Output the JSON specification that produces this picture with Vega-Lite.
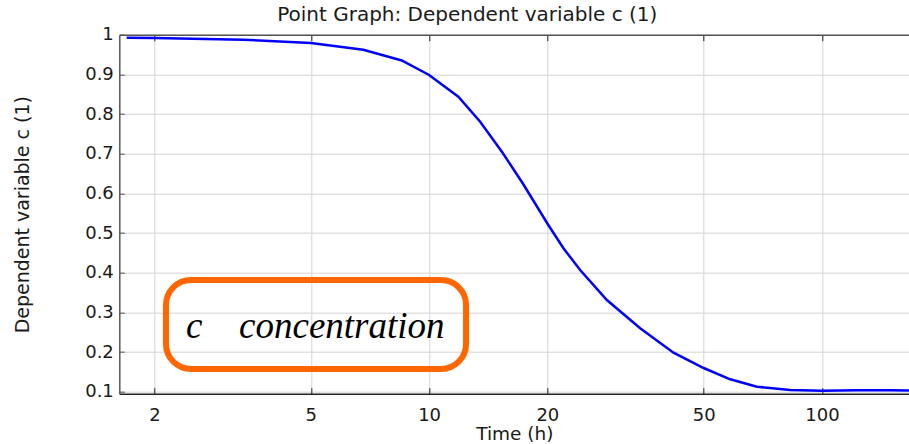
{
  "$schema": "https://vega.github.io/schema/vega-lite/v6.json",
  "width": 790,
  "height": 359,
  "autosize": {"type": "none"},
  "padding": {"left": 119.3, "top": 34.7, "right": 0, "bottom": 50.3},
  "background": "white",
  "config": {
    "view": {"stroke": null},
    "font": "DejaVu Sans",
    "axis": {"labelFont": "DejaVu Sans", "titleFont": "DejaVu Sans", "labelColor": "#1a1a1a", "titleColor": "#1a1a1a", "titleFontWeight": "normal", "labelFontSize": 18, "titleFontSize": 19}
  },
  "title": {
    "text": "Point Graph: Dependent variable c (1)",
    "font": "DejaVu Sans",
    "fontSize": 20,
    "fontWeight": "normal",
    "color": "#1a1a1a",
    "anchor": "middle",
    "dx": -47,
    "baseline": "alphabetic",
    "offset": -15
  },
  "datasets": {
    "curve": [
      {"t": 1.699, "c": 0.9924},
      {"t": 2.0, "c": 0.9917},
      {"t": 3.366, "c": 0.9874},
      {"t": 5.0, "c": 0.9791},
      {"t": 6.8, "c": 0.9622},
      {"t": 8.52, "c": 0.935},
      {"t": 10.0, "c": 0.8984},
      {"t": 11.87, "c": 0.8437},
      {"t": 13.49, "c": 0.7807},
      {"t": 15.32, "c": 0.7051},
      {"t": 17.39, "c": 0.6224},
      {"t": 20.04, "c": 0.5228},
      {"t": 21.98, "c": 0.4616},
      {"t": 24.24, "c": 0.4069},
      {"t": 28.35, "c": 0.3312},
      {"t": 34.46, "c": 0.2599},
      {"t": 41.9, "c": 0.1984},
      {"t": 50.0, "c": 0.1598},
      {"t": 58.42, "c": 0.1313},
      {"t": 68.32, "c": 0.1127},
      {"t": 83.06, "c": 0.1044},
      {"t": 100.0, "c": 0.1026},
      {"t": 122.8, "c": 0.1039},
      {"t": 149.2, "c": 0.1036},
      {"t": 166.9, "c": 0.1031}
    ],
    "box": [
      {"x1": 2.139, "x2": 12.42, "y1": 0.3817, "y2": 0.1573}
    ],
    "labels": [
      {"t": 2.405, "c": 0.2354, "label": "c"},
      {"t": 3.283, "c": 0.2354, "label": "concentration"}
    ]
  },
  "resolve": {"axis": {"x": "independent", "y": "independent"}},
  "layer": [
    {
      "data": {"name": "curve"},
      "mark": {"type": "line", "color": "#0000ff", "strokeWidth": 2.5, "clip": true},
      "encoding": {
        "x": {
          "field": "t", "type": "quantitative",
          "scale": {"type": "log", "domain": [1.627, 166.9], "nice": false},
          "axis": {
            "orient": "bottom", "title": "Time (h)", "values": [2, 5, 10, 20, 50, 100], "format": "~g",
            "grid": true, "gridColor": "#d4d4d4", "gridWidth": 1,
            "domainColor": "#222222", "domainWidth": 1.5,
            "tickColor": "#222222", "tickSize": -6, "labelPadding": 19,
            "titlePadding": 0, "titleFontSize": 18.5, "labelFlush": false
          }
        },
        "y": {
          "field": "c", "type": "quantitative",
          "scale": {"domain": [0.095, 1.0], "nice": false, "zero": false},
          "axis": {
            "title": "Dependent variable c (1)", "values": [0.1, 0.2, 0.3, 0.4, 0.5, 0.6, 0.7, 0.8, 0.9, 1.0], "format": "~g",
            "grid": true, "gridColor": "#d4d4d4", "gridWidth": 1,
            "domainColor": "#555555", "domainWidth": 1.5,
            "tickColor": "#555555", "tickSize": -5, "labelPadding": 11,
            "titlePadding": 52, "labelFlush": false
          }
        }
      }
    },
    {
      "data": {"name": "box"},
      "mark": {"type": "rect", "fill": null, "fillOpacity": 0, "stroke": "#ff6600", "strokeWidth": 6, "cornerRadius": 25},
      "encoding": {
        "x": {
          "field": "x1", "type": "quantitative",
          "axis": {"orient": "top", "title": null, "labels": false, "grid": false, "domainColor": "#555555", "domainWidth": 1.5, "tickColor": "#222222", "tickSize": -6, "values": [2, 5, 10, 20, 50, 100]}
        },
        "x2": {"field": "x2"},
        "y": {"field": "y1", "type": "quantitative", "axis": null},
        "y2": {"field": "y2"}
      }
    },
    {
      "data": {"name": "labels"},
      "mark": {"type": "text", "font": "Liberation Serif", "fontStyle": "italic", "fontSize": 37, "align": "left", "baseline": "alphabetic", "color": "#000000"},
      "encoding": {
        "x": {"field": "t", "type": "quantitative", "axis": null},
        "y": {"field": "c", "type": "quantitative", "axis": null},
        "text": {"field": "label"}
      }
    }
  ]
}
